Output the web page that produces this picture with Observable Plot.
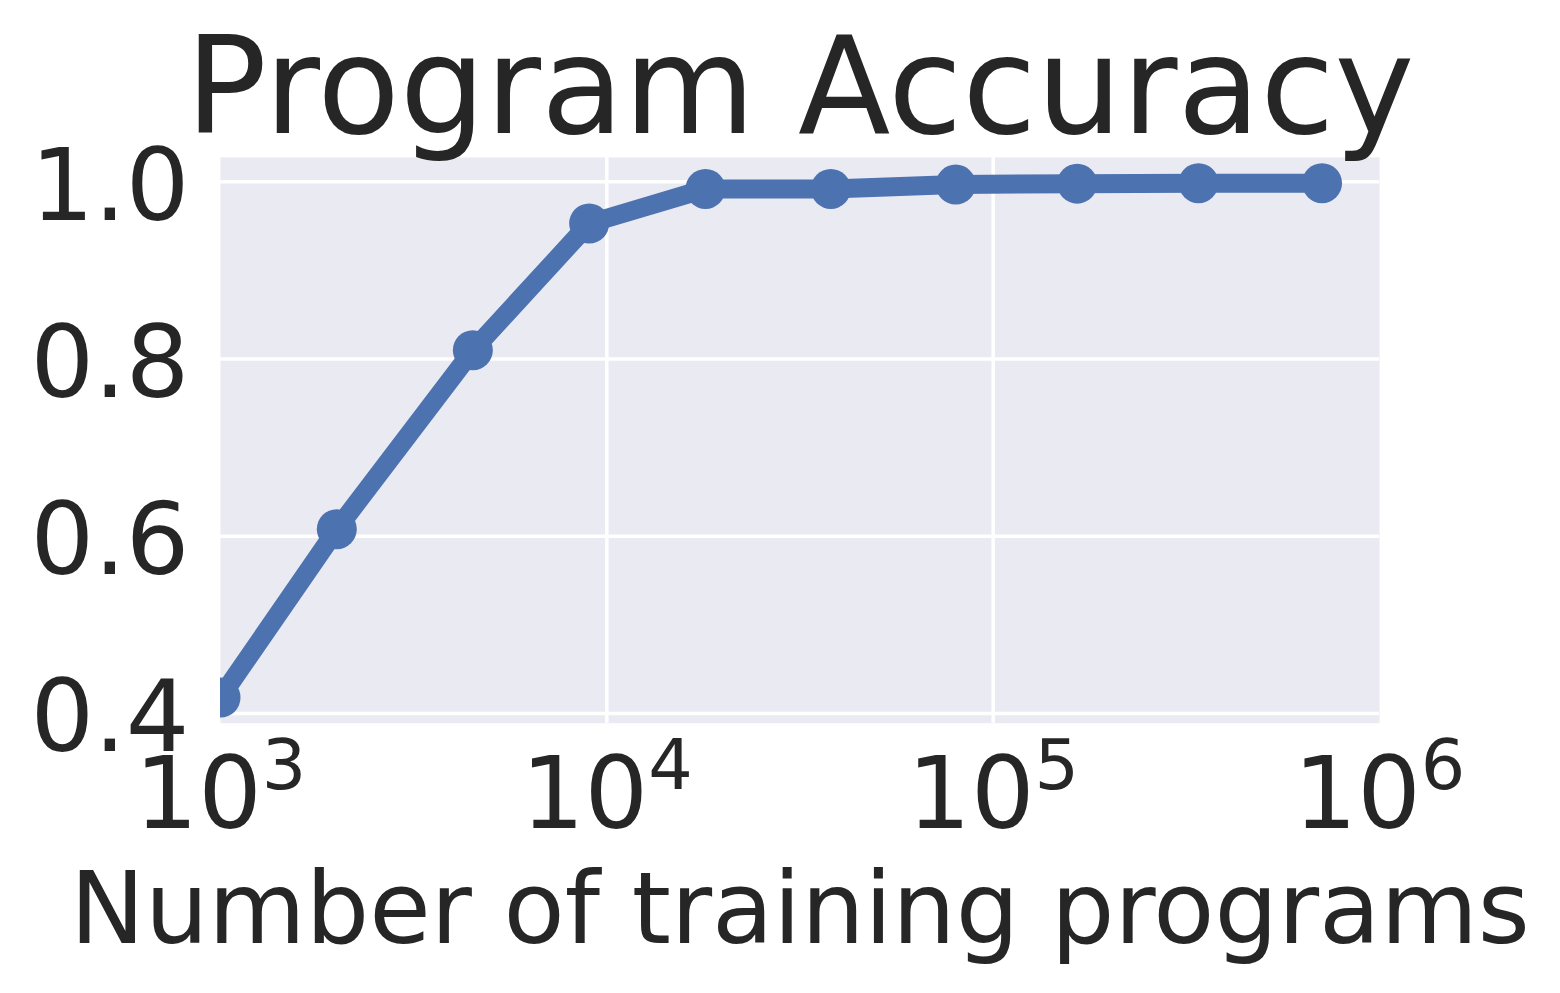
<!DOCTYPE html>
<html>
<head>
<meta charset="utf-8">
<script src="https://cdn.jsdelivr.net/npm/d3@7"></script>
<script src="https://cdn.jsdelivr.net/npm/@observablehq/plot@0.6"></script>
<style>
  html, body { margin: 0; padding: 0; background: #ffffff; }
  #wrap { width: 1560px; height: 993px; overflow: hidden; font-family: "DejaVu Sans", sans-serif; color: #262626; }
  #title { height: 150px; line-height: 150px; font-size: 135px; text-align: center; padding-left: 40px; box-sizing: border-box; position: relative; top: 12px; white-space: nowrap; }
</style>
</head>
<body>
<div id="wrap">
  <div id="title">Program Accuracy</div>
  <div id="chart"></div>
</div>
<script>
// Data
const trainingPrograms = [1000, 2000, 4500, 9000, 18000, 38000, 80000, 165000, 340000, 710000];
const accuracy = [0.418, 0.608, 0.810, 0.953, 0.992, 0.992, 0.997, 0.998, 0.9985, 0.9985];
const xTicks = [1e3, 1e4, 1e5, 1e6];
const yTicks = [0.4, 0.6, 0.8, 1.0];
const xLabel = ["Number of training programs"];

const data = trainingPrograms.map((x, i) => ({x, y: accuracy[i]}));

const blue = "#4C72B0";
const chart = Plot.plot({
  width: 1560,
  height: 843,
  marginTop: 7,
  marginBottom: 270.3,
  marginLeft: 220,
  marginRight: 181,
  style: {fontFamily: "DejaVu Sans", color: "#262626", background: "white", overflow: "visible"},
  x: {type: "log", domain: [1e3, 1e6]},
  y: {domain: [0.389, 1.0275]},
  marks: [
    Plot.frame({fill: "#EAEAF2", stroke: null}),
    Plot.gridX([1e4, 1e5], {stroke: "white", strokeOpacity: 1, strokeWidth: 3.5}),
    Plot.gridY(yTicks, {stroke: "white", strokeOpacity: 1, strokeWidth: 3.5}),
    Plot.line(data, {x: "x", y: "y", stroke: blue, strokeWidth: 19, strokeLinejoin: "round", clip: true}),
    Plot.dot(data, {x: "x", y: "y", r: 20, fill: blue, stroke: null, clip: true}),
    Plot.axisY(yTicks, {tickSize: 0, tickPadding: 31, dy: 6, tickFormat: d3.format(".1f"), fontSize: 100, label: null}),
    Plot.axisX(xTicks, {tickSize: 0, tickPadding: 34, tickFormat: d => "10^" + Math.round(Math.log10(d)), fontSize: 100, label: null}),
    Plot.text(xLabel, {frameAnchor: "bottom", lineAnchor: "top", dy: 148.6, fontSize: 100, fill: "#262626"})
  ]
});

// Render exponent as superscript
chart.querySelectorAll('g[aria-label="x-axis tick label"] text').forEach(t => {
  const m = /^10\^(\d+)$/.exec(t.textContent);
  if (!m) return;
  t.textContent = "";
  const ns = "http://www.w3.org/2000/svg";
  const base = document.createElementNS(ns, "tspan");
  base.textContent = "10";
  const sup = document.createElementNS(ns, "tspan");
  sup.setAttribute("dy", "-39.4");
  sup.setAttribute("font-size", "70");
  sup.textContent = m[1];
  t.appendChild(base);
  t.appendChild(sup);
});

document.getElementById("chart").appendChild(chart);
</script>
</body>
</html>
